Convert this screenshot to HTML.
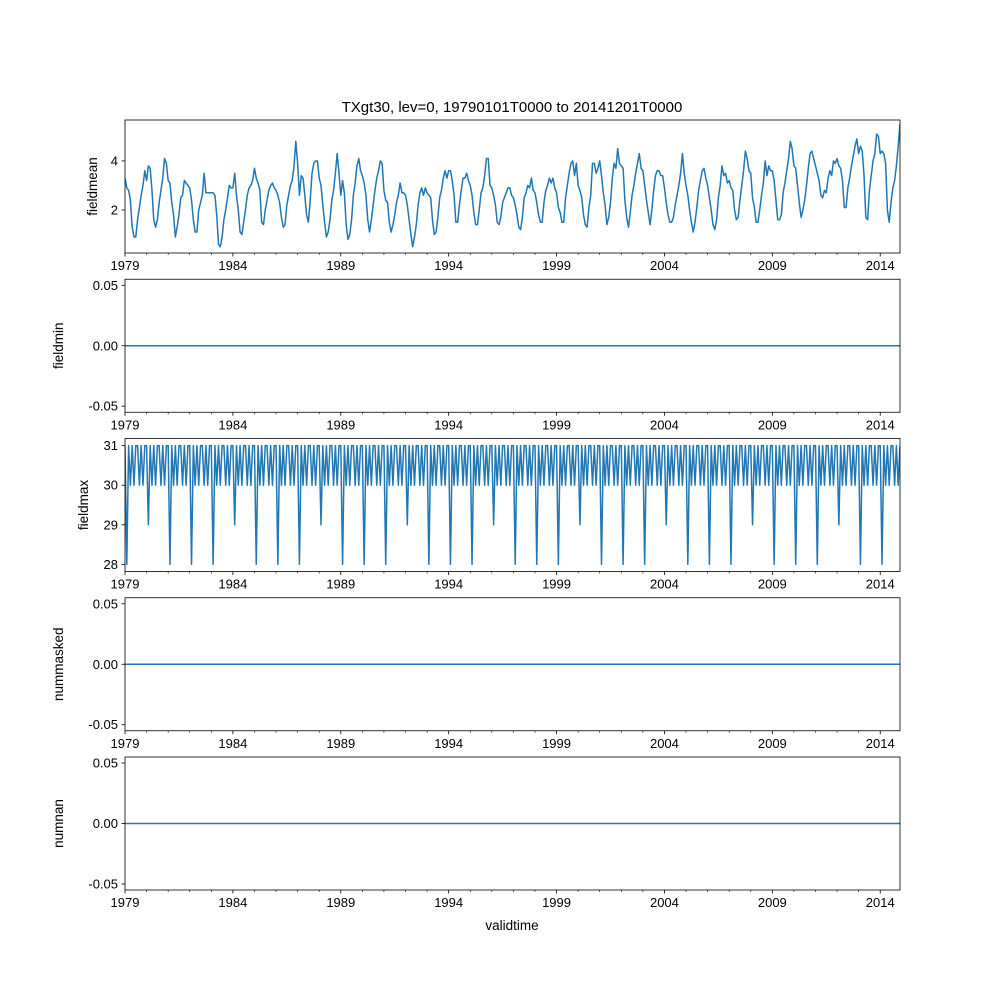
<!DOCTYPE html>
<html><head><meta charset="utf-8"><style>
body{margin:0;background:#fff}
svg{display:block;font-family:"Liberation Sans","DejaVu Sans",sans-serif}
</style></head><body>
<svg id="chart" width="1000" height="1000" xmlns="http://www.w3.org/2000/svg">
<rect width="1000" height="1000" fill="#fff"/>
<text x="512" y="112" font-size="15" text-anchor="middle">TXgt30, lev=0, 19790101T0000 to 20141201T0000</text>
<text x="512" y="930" font-size="13.5" text-anchor="middle">validtime</text>
</svg>
<script>
const startYear = 1979;
const yearTicks = [1979,1984,1989,1994,1999,2004,2009,2014];
const fieldmean = [
3.3,2.9,2.8,2.4,1.3,0.9,0.9,1.6,2.1,2.6,3.0,3.6,
3.2,3.8,3.7,2.8,1.6,1.3,1.6,2.3,2.8,3.3,4.1,3.9,
3.2,3.1,2.3,1.8,0.9,1.3,1.8,2.5,2.6,3.2,3.1,3.0,
2.9,2.4,1.6,1.1,1.1,2.0,2.3,2.6,3.5,2.7,2.7,2.7,
2.7,2.7,2.6,1.8,0.6,0.5,0.9,1.6,2.0,2.5,3.0,2.9,
2.9,3.5,2.6,2.0,1.1,1.0,1.5,2.0,2.6,2.9,3.0,3.2,
3.7,3.3,3.1,2.8,1.5,1.4,2.0,2.4,2.8,3.0,3.1,2.9,
2.8,2.6,2.3,1.7,1.3,1.4,2.2,2.6,3.0,3.2,3.8,4.8,
3.9,2.6,3.4,3.3,2.6,1.8,1.5,2.4,3.5,3.9,4.0,4.0,
3.3,3.0,2.2,1.5,0.9,1.1,1.6,2.4,2.8,3.5,4.3,3.5,
2.6,3.2,2.7,1.4,0.8,1.0,1.6,2.6,3.1,3.8,4.1,3.6,
3.4,3.1,2.6,1.6,1.1,1.6,2.2,2.8,3.3,3.6,4.0,3.9,
2.8,2.4,2.3,1.5,1.1,1.4,1.8,2.3,2.6,3.1,2.7,2.7,
2.6,2.2,1.6,1.0,0.5,0.9,1.4,2.2,2.7,2.9,2.6,2.9,
2.7,2.6,2.5,1.6,1.0,1.1,1.7,2.5,2.8,3.3,3.6,3.3,
3.6,3.6,3.2,2.6,1.5,1.5,2.2,2.8,3.3,3.3,3.5,3.2,
3.0,2.6,1.9,1.4,1.4,2.0,2.7,2.9,3.4,4.1,4.1,3.0,
2.9,2.6,2.2,1.5,1.4,1.7,2.3,2.5,2.7,2.9,2.9,2.6,
2.5,2.2,1.8,1.3,1.2,1.7,2.5,2.7,3.0,2.9,3.3,2.8,
2.7,2.3,1.8,1.5,1.5,2.3,2.8,3.0,3.3,3.1,3.3,2.9,
2.7,2.1,1.9,1.5,1.5,2.5,3.0,3.5,3.9,4.0,3.4,3.9,
3.0,2.8,2.5,1.8,1.4,1.3,2.1,2.6,3.9,3.9,3.5,3.7,
4.0,3.4,2.7,2.2,1.4,1.7,2.3,3.3,3.9,3.7,4.5,3.9,
3.8,3.7,2.4,1.7,1.3,1.9,2.6,3.0,3.5,3.9,4.3,3.7,
3.6,3.0,2.4,1.9,1.4,2.0,2.8,3.4,3.6,3.6,3.4,3.4,
2.9,2.3,1.8,1.5,1.5,1.7,2.2,2.6,3.0,3.5,4.3,3.5,
3.0,2.6,2.0,1.5,1.1,1.5,2.1,2.8,3.2,3.6,3.7,3.3,
3.0,2.5,2.0,1.4,1.2,1.6,2.5,3.0,3.8,3.4,3.5,3.1,
3.2,2.9,2.8,2.0,1.6,1.7,2.4,3.0,3.6,4.4,4.1,3.6,
3.5,2.5,2.1,1.5,1.5,2.0,2.6,3.1,4.0,3.4,3.8,3.6,
3.6,3.2,2.4,1.6,1.6,1.8,2.7,3.1,3.6,4.1,4.8,4.5,
3.8,3.7,3.0,2.3,1.7,2.0,2.4,3.0,3.7,4.3,4.4,4.1,
3.8,3.5,3.2,2.6,2.5,2.8,2.7,3.3,3.6,3.4,4.0,3.9,
4.1,3.8,3.7,3.2,2.1,2.1,2.9,3.3,3.8,4.2,4.6,4.9,
4.3,4.6,4.4,3.4,1.7,1.6,2.8,3.4,4.0,4.3,5.1,5.0,
4.3,4.4,4.3,3.9,2.0,1.5,2.3,2.9,3.2,3.8,4.6,5.5];
const monthDays = [31,28,31,30,31,30,31,31,30,31,30,31];
const leapYears = [1980,1984,1988,1992,1996,2000,2004,2008,2012];
const meanTicks = [2,4];
const zeroTicks = [-0.05,0,0.05];
const maxTicks = [28,29,30,31];
const nMonths = fieldmean.length;
const fieldmax = [];
for (let i=0;i<nMonths;i++){const y=startYear+Math.floor(i/12),m=i%12;fieldmax.push(m===1&&leapYears.includes(y)?29:monthDays[m]);}
const zeros = fieldmean.map(()=>0);

const NS="http://www.w3.org/2000/svg";
const svg=document.getElementById('chart');
const X0=125,X1=900;
const xOf=i=>X0+(X1-X0)*i/(nMonths-1);
function el(tag,attrs,parent){const e=document.createElementNS(NS,tag);for(const k in attrs)e.setAttribute(k,attrs[k]);(parent||svg).appendChild(e);return e;}

const panels=[
 {name:'fieldmean',top:120,bot:253,ymin:0.245,ymax:5.67,ticks:meanTicks,fmt:v=>String(v),data:fieldmean,lx:97},
 {name:'fieldmin',top:279.25,bot:412.25,ymin:-0.055,ymax:0.055,ticks:zeroTicks,fmt:v=>v.toFixed(2),data:zeros,lx:63},
 {name:'fieldmax',top:438.5,bot:571.5,ymin:27.82,ymax:31.18,ticks:maxTicks,fmt:v=>String(v),data:fieldmax,lx:88},
 {name:'nummasked',top:597.75,bot:730.75,ymin:-0.055,ymax:0.055,ticks:zeroTicks,fmt:v=>v.toFixed(2),data:zeros,lx:63},
 {name:'numnan',top:757,bot:890,ymin:-0.055,ymax:0.055,ticks:zeroTicks,fmt:v=>v.toFixed(2),data:zeros,lx:63}
];
panels.forEach(p=>{
 const g=el('g',{});
 
 
 const yOf=v=>p.bot-(v-p.ymin)/(p.ymax-p.ymin)*(p.bot-p.top);
 let d='';
 p.data.forEach((v,i)=>{d+=(i?'L':'M')+xOf(i).toFixed(2)+' '+yOf(v).toFixed(2);});
 const clip=el('clipPath',{id:'c-'+p.name},g);
 el('rect',{x:X0,y:p.top,width:X1-X0,height:p.bot-p.top},clip);
 const line=el('path',{d:d,fill:'none',stroke:'#1f77b4','stroke-width':1.5,'stroke-linejoin':'round','clip-path':'url(#c-'+p.name+')'},g);
 
 
 const frame=el('rect',{x:X0,y:p.top,width:X1-X0,height:p.bot-p.top,fill:'none',stroke:'#000','stroke-width':0.8},g);
 
 
 p.ticks.forEach(t=>{
  const y=yOf(t);
  el('line',{x1:X0-3.5,x2:X0,y1:y,y2:y,stroke:'#000','stroke-width':0.8},g);
  const tx=el('text',{x:X0-7,y:y+4.5,'font-size':13,'text-anchor':'end'},g);
  tx.textContent=p.fmt(t);
  
  
 });
 for(let yr=startYear;yr<startYear+nMonths/12;yr++){
  const x=xOf((yr-startYear)*12);
  const major=yearTicks.includes(yr);
  el('line',{x1:x,x2:x,y1:p.bot,y2:p.bot+(major?3.5:2),stroke:'#000','stroke-width':major?0.8:0.6},g);
  if(major){
   const tx=el('text',{x:x,y:p.bot+17,'font-size':13,'text-anchor':'middle'},g);
   tx.textContent=String(yr);
   
   
  }
 }
 const cy=(p.top+p.bot)/2;
 const yl=el('text',{x:p.lx,y:cy,'font-size':13.5,'text-anchor':'middle',transform:'rotate(-90 '+p.lx+' '+cy+')'},g);
 yl.textContent=p.name;
 
 
});
</script>
</body></html>
